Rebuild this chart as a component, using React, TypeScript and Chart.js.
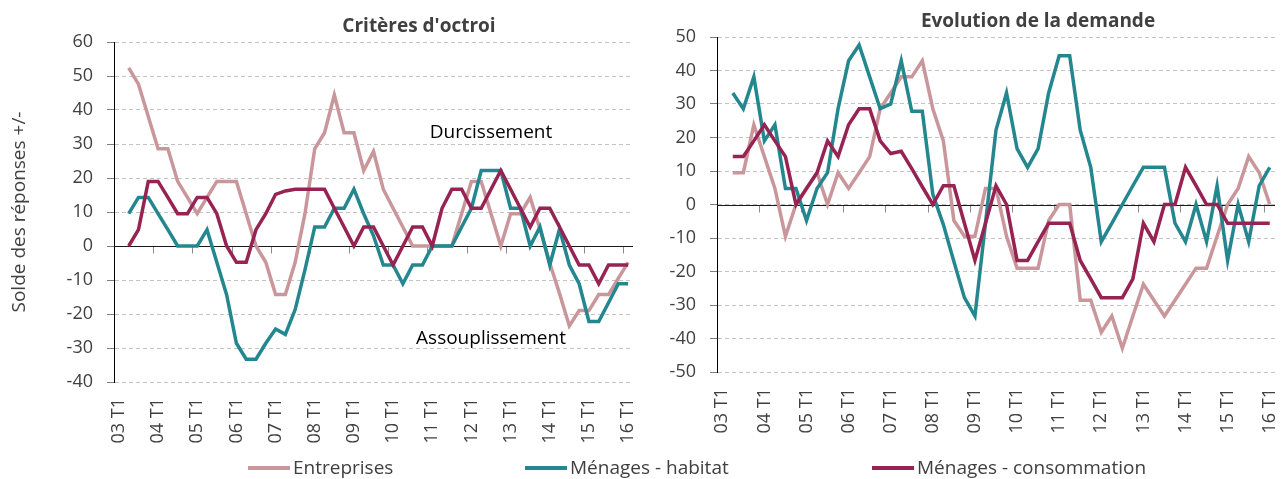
import React, { useEffect, useRef } from 'react';
import { Chart, registerables } from 'chart.js';

Chart.register(...registerables);

// ---------- Data ----------
const quarters = [
  '03 T1', '03 T2', '03 T3', '03 T4',
  '04 T1', '04 T2', '04 T3', '04 T4',
  '05 T1', '05 T2', '05 T3', '05 T4',
  '06 T1', '06 T2', '06 T3', '06 T4',
  '07 T1', '07 T2', '07 T3', '07 T4',
  '08 T1', '08 T2', '08 T3', '08 T4',
  '09 T1', '09 T2', '09 T3', '09 T4',
  '10 T1', '10 T2', '10 T3', '10 T4',
  '11 T1', '11 T2', '11 T3', '11 T4',
  '12 T1', '12 T2', '12 T3', '12 T4',
  '13 T1', '13 T2', '13 T3', '13 T4',
  '14 T1', '14 T2', '14 T3', '14 T4',
  '15 T1', '15 T2', '15 T3', '15 T4',
  '16 T1',
];

const seriesNames = ['Entreprises', 'Ménages - habitat', 'Ménages - consommation'];
const seriesColors = ['#C9969B', '#24878F', '#962352'];

const leftTitle = "Critères d'octroi";
const rightTitle = 'Evolution de la demande';
const yAxisTitle = 'Solde des réponses +/-';

// Critères d'octroi
const octroiEntreprises = [
  null, 52.4, 47.6, 38.1, 28.6, 28.6, 19.0, 14.3, 9.5, 14.3, 19.0, 19.0, 19.0,
  9.5, 0, -4.8, -14.3, -14.3, -4.8, 9.5, 28.6, 33.3, 44.4, 33.3, 33.3, 22.2,
  27.8, 16.7, 11.1, 5.6, 0, 0, 0, 0, 0, 9.5, 19.0, 19.0, 9.5, 0, 9.5, 9.5,
  14.3, 5.0, -5.0, -14.0, -23.5, -19.0, -19.0, -14.3, -14.3, -9.5, -4.8,
];
const octroiHabitat = [
  null, 9.5, 14.3, 14.3, 9.5, 4.8, 0, 0, 0, 4.8, -4.8, -14.3, -28.6, -33.3,
  -33.3, -28.6, -24.4, -26.0, -18.7, -7.0, 5.6, 5.6, 11.1, 11.1, 16.7, 9.5,
  3.0, -5.6, -5.6, -11.1, -5.6, -5.6, 0, 0, 0, 5.6, 11.1, 22.2, 22.2, 22.2,
  11.1, 11.1, 0, 5.6, -5.6, 5.0, -5.6, -11.1, -22.2, -22.2, -16.7, -11.1, -11.1,
];
const octroiConsommation = [
  null, 0, 4.8, 19.0, 19.0, 14.3, 9.5, 9.5, 14.3, 14.3, 9.5, 0, -4.8, -4.8,
  4.8, 9.5, 15.2, 16.2, 16.7, 16.7, 16.7, 16.7, 11.1, 5.6, 0, 5.6, 5.6, 0,
  -5.6, 0, 5.6, 5.6, 0, 11.1, 16.7, 16.7, 11.1, 11.1, 16.7, 22.2, 16.7, 11.1,
  5.6, 11.1, 11.1, 5.6, 0, -5.6, -5.6, -11.1, -5.6, -5.6, -5.6,
];

// Evolution de la demande
const demandeEntreprises = [
  null, 9.5, 9.5, 23.8, 14.3, 4.8, -9.5, 0, 4.8, 9.5, 0, 9.5, 4.8, 9.5, 14.3,
  28.6, 33.3, 38.1, 38.1, 42.9, 28.6, 19.0, -4.8, -9.5, -9.5, 4.8, 4.8, -9.5,
  -19.0, -19.0, -19.0, -4.8, 0, 0, -28.6, -28.6, -38.1, -33.3, -42.9, -33.3,
  -23.8, -28.6, -33.3, -28.6, -23.8, -19.0, -19.0, -9.5, 0, 4.8, 14.3, 9.5, 0,
];
const demandeHabitat = [
  null, 33.3, 28.6, 38.1, 19.0, 23.8, 4.8, 4.8, -4.8, 4.8, 9.5, 28.6, 42.9,
  47.6, 38.1, 28.6, 30.0, 42.9, 27.8, 27.8, 3.0, -6.0, -17.0, -27.8, -33.3,
  -5.6, 22.2, 33.3, 16.7, 11.1, 16.7, 33.3, 44.4, 44.4, 22.2, 11.1, -11.1,
  -5.6, 0, 5.6, 11.1, 11.1, 11.1, -5.6, -11.1, 0, -11.1, 5.6, -16.7, 0, -11.1,
  5.6, 11.1,
];
const demandeConsommation = [
  null, 14.3, 14.3, 19.0, 23.8, 19.0, 14.3, 0, 4.8, 9.5, 19.0, 14.3, 23.8,
  28.6, 28.6, 19.0, 15.2, 15.9, 10.7, 5.3, 0, 5.6, 5.6, -5.6, -16.7, -5.6, 5.6,
  0, -16.7, -16.7, -11.1, -5.6, -5.6, -5.6, -16.7, -22.2, -27.8, -27.8, -27.8,
  -22.2, -5.6, -11.1, 0, 0, 11.1, 5.6, 0, 0, -5.6, -5.6, -5.6, -5.6, -5.6,
];

const octroiRange = [-40, 60];
const demandeRange = [-50, 50];
const yStep = 10;

// Text notes placed in data coordinates (category, value at baseline)
const octroiNotes = [
  { text: 'Durcissement', category: '12 T3', value: 31.8 },
  { text: 'Assouplissement', category: '12 T3', value: -28.7 },
];

const FONT = "'Open Sans', 'Noto Sans', sans-serif";
const TEXT = '#404040';

// ---------- Plugins ----------
const zeroAxisPlugin = {
  id: 'zeroAxis',
  beforeDatasetsDraw(chart: any) {
    const { ctx, chartArea, scales } = chart;
    const x = scales.x;
    const y = scales.y;
    const y0 = Math.round(y.getPixelForValue(0)) + 0.5;
    ctx.save();
    ctx.lineWidth = 1;
    ctx.strokeStyle = '#8c8c8c';
    ctx.beginPath();
    for (let k = 4; k < quarters.length; k += 4) {
      const px = Math.round((x.getPixelForValue(k - 1) + x.getPixelForValue(k)) / 2) + 0.5;
      ctx.moveTo(px, y0);
      ctx.lineTo(px, y0 + 7);
    }
    ctx.stroke();
    ctx.strokeStyle = '#1a1a1a';
    ctx.beginPath();
    ctx.moveTo(chartArea.left, y0);
    ctx.lineTo(chartArea.right, y0);
    ctx.stroke();
    ctx.restore();
  },
};

const notesPlugin = {
  id: 'notes',
  afterDatasetsDraw(chart: any, _args: any, opts: any) {
    const items = (opts && opts.items) || [];
    if (!items.length) return;
    const { ctx, scales } = chart;
    ctx.save();
    ctx.font = `19px ${FONT}`;
    ctx.fillStyle = '#000';
    ctx.textAlign = 'center';
    ctx.textBaseline = 'alphabetic';
    items.forEach((n: any) => {
      const px = scales.x.getPixelForValue(quarters.indexOf(n.category));
      const py = scales.y.getPixelForValue(n.value);
      ctx.fillText(n.text, px, py);
    });
    ctx.restore();
  },
};

function makeConfig(
  series: (number | null)[][],
  range: number[],
  yWidth: number,
  xHeight: number,
  padTop: number,
  padRight: number,
  yTitle: string | null,
  notes: any[],
) {
  const order = [2, 1, 0]; // last series drawn on top
  return {
    type: 'line',
    data: {
      labels: quarters,
      datasets: order.map((s) => ({
        label: seriesNames[s],
        data: series[s],
        borderColor: seriesColors[s],
        backgroundColor: seriesColors[s],
        borderWidth: 3.5,
        pointRadius: 0,
        pointHoverRadius: 0,
        tension: 0,
        fill: false,
        spanGaps: false,
      })),
    },
    options: {
      responsive: false,
      maintainAspectRatio: false,
      devicePixelRatio: 1,
      animation: false,
      events: [],
      layout: { padding: { left: 0, right: padRight, top: padTop, bottom: 0 } },
      plugins: {
        legend: { display: false },
        tooltip: { enabled: false },
        title: { display: false },
        notes: { items: notes },
      },
      scales: {
        x: {
          type: 'category',
          offset: true,
          grid: { display: false, drawTicks: false, offset: true },
          border: { display: false },
          ticks: {
            autoSkip: false,
            maxRotation: 90,
            minRotation: 90,
            padding: 16,
            color: TEXT,
            font: { family: FONT, size: 18 },
            callback: (_v: any, i: number) => (i % 4 === 0 ? quarters[i] : ''),
          },
          afterFit: (s: any) => {
            s.height = xHeight;
            s.paddingLeft = 0;
            s.paddingRight = 0;
          },
        },
        y: {
          min: range[0],
          max: range[1],
          ticks: {
            stepSize: yStep,
            color: TEXT,
            font: { family: FONT, size: 18 },
            padding: 14,
          },
          grid: {
            color: '#c4c4c4',
            lineWidth: 1,
            tickLength: 7,
            tickColor: '#7f7f7f',
            tickWidth: 1,
            tickBorderDash: [],
          },
          border: { display: true, color: '#000', width: 1, dash: [4, 3] },
          title: yTitle
            ? {
                display: true,
                text: yTitle,
                color: TEXT,
                font: { family: FONT, size: 19 },
                padding: { top: 8, bottom: 0 },
              }
            : { display: false },
          afterFit: (s: any) => {
            s.width = yWidth;
            s.paddingTop = 0;
            s.paddingBottom = 0;
          },
        },
      },
    },
    plugins: [zeroAxisPlugin, notesPlugin],
  };
}

export default function App() {
  const leftRef = useRef<HTMLCanvasElement>(null);
  const rightRef = useRef<HTMLCanvasElement>(null);

  useEffect(() => {
    const left = new Chart(
      leftRef.current as HTMLCanvasElement,
      makeConfig(
        [octroiEntreprises, octroiHabitat, octroiConsommation],
        octroiRange,
        114,
        73,
        42,
        12,
        yAxisTitle,
        octroiNotes,
      ) as any,
    );
    const right = new Chart(
      rightRef.current as HTMLCanvasElement,
      makeConfig(
        [demandeEntreprises, demandeHabitat, demandeConsommation],
        demandeRange,
        72,
        83,
        37,
        11,
        null,
        [],
      ) as any,
    );
    return () => {
      left.destroy();
      right.destroy();
    };
  }, []);

  const legendLeft = [248, 525, 872];

  return (
    <div
      style={{
        position: 'absolute',
        left: 0,
        top: 0,
        width: 1286,
        height: 479,
        background: '#fff',
        overflow: 'hidden',
        fontFamily: FONT,
      }}
    >
      <canvas
        ref={leftRef}
        width={645}
        height={455}
        style={{ position: 'absolute', left: 0, top: 0, width: 645, height: 455 }}
      />
      <canvas
        ref={rightRef}
        width={641}
        height={455}
        style={{ position: 'absolute', left: 645, top: 0, width: 641, height: 455 }}
      />
      <div
        style={{
          position: 'absolute',
          left: 219,
          width: 400,
          top: 15,
          textAlign: 'center',
          fontSize: 19,
          lineHeight: '20px',
          fontWeight: 'bold',
          color: TEXT,
          whiteSpace: 'nowrap',
        }}
      >
        {leftTitle}
      </div>
      <div
        style={{
          position: 'absolute',
          left: 838,
          width: 400,
          top: 10,
          textAlign: 'center',
          fontSize: 19,
          lineHeight: '20px',
          fontWeight: 'bold',
          color: TEXT,
          whiteSpace: 'nowrap',
        }}
      >
        {rightTitle}
      </div>
      {seriesNames.map((name, i) => (
        <React.Fragment key={name}>
          <div
            style={{
              position: 'absolute',
              left: legendLeft[i],
              top: 466,
              width: 42,
              height: 4,
              background: seriesColors[i],
            }}
          />
          <div
            style={{
              position: 'absolute',
              left: legendLeft[i] + 45,
              top: 457,
              fontSize: 19,
              lineHeight: '20px',
              color: TEXT,
              whiteSpace: 'nowrap',
            }}
          >
            {name}
          </div>
        </React.Fragment>
      ))}
    </div>
  );
}
